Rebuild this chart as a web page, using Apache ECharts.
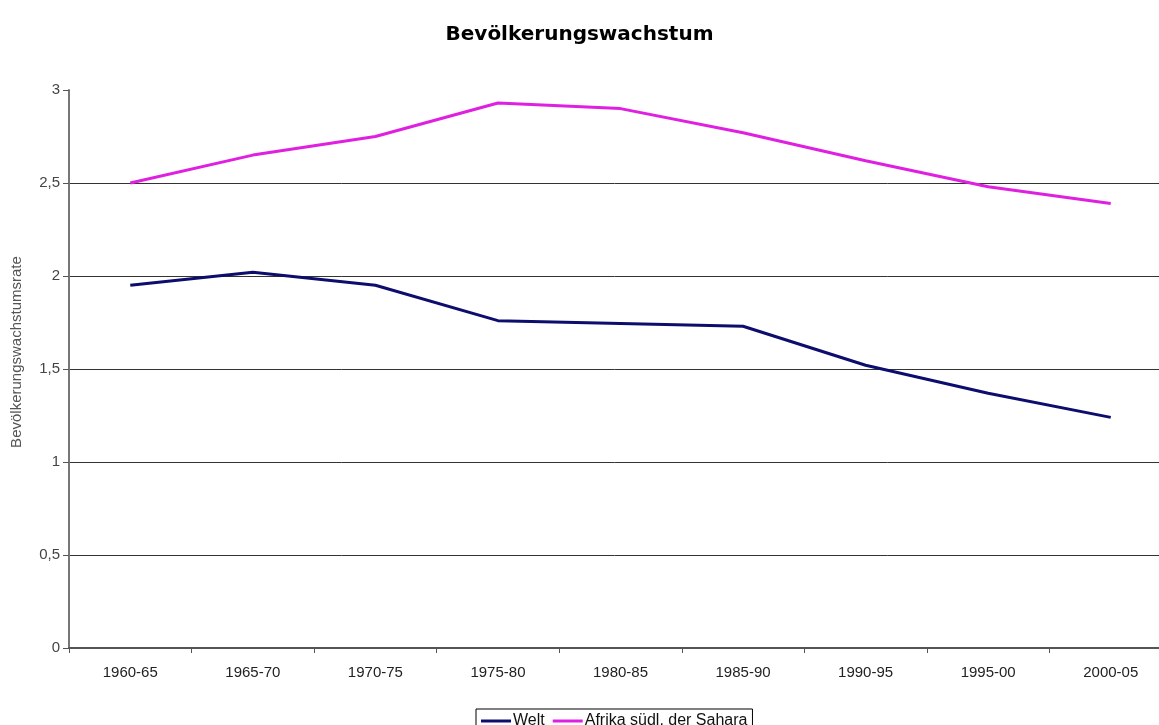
<!DOCTYPE html>
<html>
<head>
<meta charset="utf-8">
<script src="https://cdn.jsdelivr.net/npm/echarts@6/dist/echarts.min.js"></script>
<style>
  html, body { margin: 0; padding: 0; background: #fff; }
  #chart { width: 1159px; height: 725px; }
</style>
</head>
<body>
<div id="chart"></div>
<script>
var periods = ['1960-65', '1965-70', '1970-75', '1975-80', '1980-85', '1985-90', '1990-95', '1995-00', '2000-05']
var welt = [1.95, 2.02, 1.95, 1.76, 1.745, 1.73, 1.52, 1.37, 1.24]
var afrika = [2.50, 2.65, 2.75, 2.93, 2.90, 2.77, 2.62, 2.48, 2.39]
var yTicks = [0, 0.5, 1, 1.5, 2, 2.5, 3]

var chart = echarts.init(document.getElementById('chart'))
var font = '"Liberation Sans", Arial, sans-serif'
var option = {
  animation: false,
  textStyle: { fontFamily: font },
  title: {
    text: 'Bevölkerungswachstum',
    left: 'center',
    top: 20,
    textStyle: { fontSize: 20, fontWeight: 'bold', color: '#000', fontFamily: '"DejaVu Sans", sans-serif' }
  },
  legend: {
    left: 476,
    top: 709,
    padding: [4, 5, 4, 5],
    borderColor: '#000',
    borderWidth: 1,
    borderRadius: 0,
    itemWidth: 30,
    itemHeight: 3,
    itemGap: 8,
    icon: 'rect',
    textStyle: { fontSize: 16, color: '#111', padding: [0, 0, 0, -3] },
    data: ['Welt', 'Afrika südl. der Sahara']
  },
  graphic: [{
    type: 'text',
    x: 17,
    y: 352,
    rotation: Math.PI / 2,
    style: {
      text: 'Bevölkerungswachstumsrate',
      fontSize: 15,
      fontFamily: font,
      fill: '#555',
      align: 'center',
      verticalAlign: 'middle'
    }
  }],
  grid: {
    left: 69,
    top: 90,
    width: 1103,
    height: 558,
    containLabel: false,
    outerBoundsMode: 'none'
  },
  xAxis: {
    type: 'category',
    data: periods,
    boundaryGap: true,
    axisLine: { lineStyle: { color: '#555', width: 2 } },
    axisTick: { show: true, length: 5, interval: 0, lineStyle: { color: '#555' } },
    axisLabel: { color: '#222', fontSize: 15, margin: 17, interval: 0 },
    splitLine: { show: false }
  },
  yAxis: {
    type: 'value',
    min: yTicks[0],
    max: yTicks[yTicks.length - 1],
    interval: 0.5,
    axisLine: { show: true, lineStyle: { color: '#777', width: 2 } },
    axisTick: { show: true, length: 6, lineStyle: { color: '#555' } },
    axisLabel: {
      color: '#444',
      fontSize: 15,
      margin: 9,
      formatter: function (v) { return String(v).replace('.', ',') }
    },
    splitLine: { show: true, showMaxLine: false, lineStyle: { color: '#333', width: 1 } }
  },
  series: [
    {
      name: 'Welt',
      type: 'line',
      data: welt,
      symbol: 'none',
      lineStyle: { color: '#0d0d6e', width: 3 },
      itemStyle: { color: '#0d0d6e' }
    },
    {
      name: 'Afrika südl. der Sahara',
      type: 'line',
      data: afrika,
      symbol: 'none',
      lineStyle: { color: '#e020e0', width: 3 },
      itemStyle: { color: '#e020e0' }
    }
  ]
}
chart.setOption(option)
</script>
</body>
</html>
